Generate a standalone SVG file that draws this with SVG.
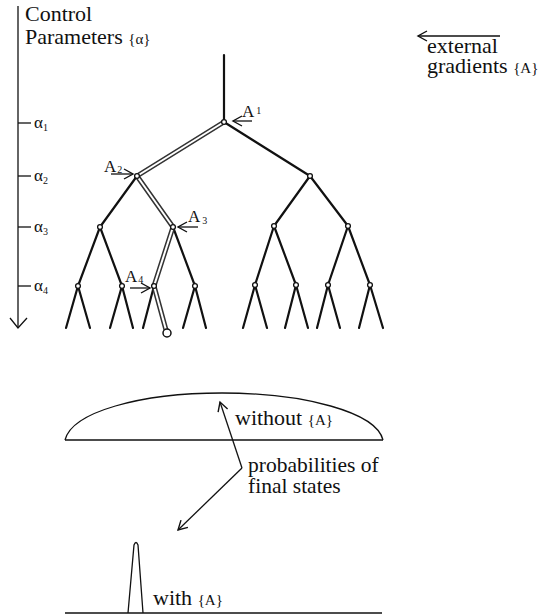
<svg xmlns="http://www.w3.org/2000/svg" width="546" height="615" viewBox="0 0 546 615" font-family="Liberation Serif, DejaVu Serif, serif">
<style>
text{fill:#111}
.t{font-size:22px}
.s{font-size:15px}
.sub{font-size:10px}
.al{font-size:17px}
.e{stroke:#111;stroke-width:2.2;fill:none;stroke-linecap:round}
.ln{stroke:#111;stroke-width:1.3;fill:none}
.dbo{stroke:#333;stroke-width:5;fill:none;stroke-linejoin:round}
.dbi{stroke:#fff;stroke-width:2;fill:none;stroke-linejoin:round}
.n{fill:#fff;stroke:#111;stroke-width:1.3}
</style>
<defs>
<marker id="ah" markerUnits="userSpaceOnUse" markerWidth="12" markerHeight="12" refX="10" refY="6" orient="auto">
<path d="M1,1 L10,6 L1,11" fill="none" stroke="#111" stroke-width="1.4"/>
</marker>
</defs>
<rect width="546" height="615" fill="#fff"/>

<g id="axis">
<line class="ln" x1="18" y1="6" x2="18" y2="328"/>
<path class="ln" d="M10,318 L18,328 L27,318"/>
<line class="ln" x1="18" y1="123" x2="31" y2="123"/>
<line class="ln" x1="18" y1="176" x2="31" y2="176"/>
<line class="ln" x1="18" y1="227" x2="31" y2="227"/>
<line class="ln" x1="18" y1="286" x2="31" y2="286"/>
<text x="34" y="128" class="al" font-family="Liberation Serif, serif">α<tspan class="sub" dy="3">1</tspan></text>
<text x="34" y="181" class="al" font-family="Liberation Serif, serif">α<tspan class="sub" dy="3">2</tspan></text>
<text x="34" y="232" class="al" font-family="Liberation Serif, serif">α<tspan class="sub" dy="3">3</tspan></text>
<text x="34" y="291" class="al" font-family="Liberation Serif, serif">α<tspan class="sub" dy="3">4</tspan></text>
<text x="25" y="21" class="t" font-family="Liberation Serif, serif">Control</text>
<text x="25" y="44" class="t" font-family="Liberation Serif, serif">Parameters <tspan class="s">{α}</tspan></text>
</g>

<g id="gradients">
<line class="ln" x1="500" y1="36" x2="418" y2="36" marker-end="url(#ah)"/>
<text x="427" y="53" class="t" font-family="Liberation Serif, serif">external</text>
<text x="427" y="73" class="t" font-family="Liberation Serif, serif">gradients <tspan class="s">{A}</tspan></text>
</g>

<g id="connectors">
<line class="e" x1="224" y1="55" x2="224" y2="122"/>
<line class="e" x1="224" y1="122" x2="310" y2="176"/>
<line class="e" x1="137" y1="176" x2="100" y2="227"/>
<line class="e" x1="310" y1="176" x2="274" y2="226"/>
<line class="e" x1="310" y1="176" x2="348" y2="226"/>
<line class="e" x1="100" y1="227" x2="78" y2="286"/>
<line class="e" x1="100" y1="227" x2="122" y2="286"/>
<line class="e" x1="173" y1="227" x2="195" y2="286"/>
<line class="e" x1="274" y1="226" x2="255" y2="285"/>
<line class="e" x1="274" y1="226" x2="296" y2="285"/>
<line class="e" x1="348" y1="226" x2="328" y2="285"/>
<line class="e" x1="348" y1="226" x2="370" y2="285"/>
<path class="e" d="M66,328 L78,286 L90,328"/>
<path class="e" d="M110,328 L122,286 L133,328"/>
<path class="e" d="M143,328 L154,286"/>
<path class="e" d="M183,328 L195,286 L206,328"/>
<path class="e" d="M243,328 L255,285 L267,328"/>
<path class="e" d="M285,328 L296,285 L308,328"/>
<path class="e" d="M317,328 L328,285 L340,328"/>
<path class="e" d="M359,328 L370,285 L383,328"/>
<path class="dbo" d="M224,122 L137,176 L173,227 L154,286 L166,330"/>
<path class="dbi" d="M224,122 L137,176 L173,227 L154,286 L166,330"/>
<line class="ln" x1="252" y1="121" x2="233" y2="121" marker-end="url(#ah)"/>
<line class="ln" x1="111" y1="174" x2="133" y2="174" marker-end="url(#ah)"/>
<line class="ln" x1="198" y1="227" x2="178" y2="227" marker-end="url(#ah)"/>
<line class="ln" x1="130" y1="288" x2="150" y2="288" marker-end="url(#ah)"/>
<path class="ln" d="M242,468 L220,402" marker-end="url(#ah)"/>
<path class="ln" d="M242,468 L178,530" marker-end="url(#ah)"/>
</g>

<g id="labels" font-family="Liberation Serif, serif">
<text x="242" y="117" class="al" font-family="Liberation Serif, serif">A<tspan class="sub" dx="2" dy="-3">1</tspan></text>
<text x="104" y="172" class="al" font-family="Liberation Serif, serif">A<tspan class="sub" dx="1" dy="1">2</tspan></text>
<text x="188" y="222" class="al" font-family="Liberation Serif, serif">A<tspan class="sub" dx="2" dy="2">3</tspan></text>
<text x="125" y="282" class="al" font-family="Liberation Serif, serif">A<tspan class="sub" dx="1" dy="1">4</tspan></text>
</g>

<g id="n0"><circle class="n" cx="224" cy="122" r="2.4"/></g>
<g id="n1"><circle class="n" cx="137" cy="176" r="2.4"/></g>
<g id="n2"><circle class="n" cx="310" cy="176" r="2.4"/></g>
<g id="n3"><circle class="n" cx="100" cy="227" r="2.4"/></g>
<g id="n4"><circle class="n" cx="173" cy="227" r="2.4"/></g>
<g id="n5"><circle class="n" cx="274" cy="226" r="2.4"/></g>
<g id="n6"><circle class="n" cx="348" cy="226" r="2.4"/></g>
<g id="n7"><circle class="n" cx="78" cy="286" r="2.4"/></g>
<g id="n8"><circle class="n" cx="122" cy="286" r="2.4"/></g>
<g id="n9"><circle class="n" cx="154" cy="286" r="2.4"/></g>
<g id="n10"><circle class="n" cx="195" cy="286" r="2.4"/></g>
<g id="n11"><circle class="n" cx="255" cy="285" r="2.4"/></g>
<g id="n12"><circle class="n" cx="296" cy="285" r="2.4"/></g>
<g id="n13"><circle class="n" cx="328" cy="285" r="2.4"/></g>
<g id="n14"><circle class="n" cx="370" cy="285" r="2.4"/></g>
<g id="final"><circle cx="167" cy="333" r="4" fill="#fff" stroke="#111" stroke-width="1.5"/></g>

<g id="without">
<path class="ln" d="M65,440 C72,412 140,393 222,393 C304,393 376,412 383,440"/>
<line class="ln" x1="65" y1="440" x2="383" y2="440"/>
<text x="235" y="425" class="t" font-family="Liberation Serif, serif">without <tspan class="s">{A}</tspan></text>
</g>
<g id="prob">
<text x="248" y="472" class="t" font-size="21.5" font-family="Liberation Serif, serif" style="font-size:21.5px">probabilities of</text>
<text x="248" y="493" class="t" font-family="Liberation Serif, serif" style="font-size:21.5px">final states</text>
</g>
<g id="with">
<path class="ln" d="M128,613 L134,545 Q136,540 138,545 L143,613"/>
<line class="ln" x1="65" y1="613" x2="382" y2="613"/>
<text x="153" y="605" class="t" font-family="Liberation Serif, serif">with <tspan class="s">{A}</tspan></text>
</g>
</svg>
